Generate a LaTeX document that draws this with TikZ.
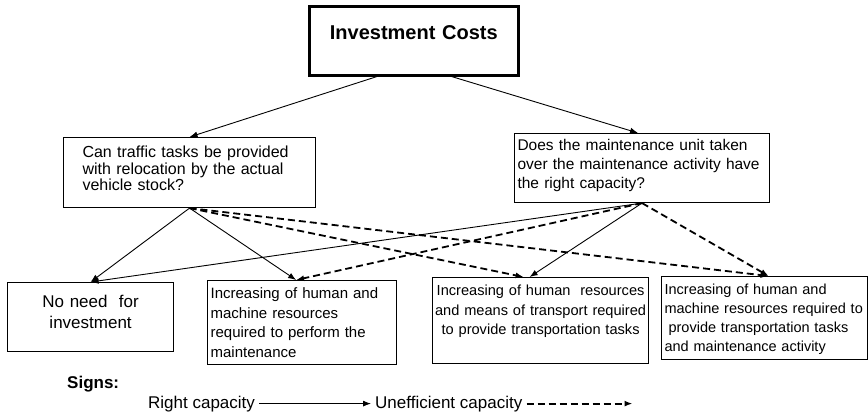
\documentclass[tikz,border=0pt]{standalone}
\usepackage{fontspec}
\setmainfont{Liberation Sans}
\usepackage{tikz}
\usetikzlibrary{arrows,arrows.meta,shapes}

\begin{document}
\begin{tikzpicture}[-, x=1pt, y=-1pt, inner ysep=0pt,
main node/.style={draw, rectangle, line width=2.6pt, inner xsep=0pt, text width=209pt, align=center, font=\fontsize{20}{24}\selectfont\bfseries},
question node/.style={draw, rectangle, line width=1.1pt, align=left},
result node/.style={draw, rectangle, line width=1.2pt},
sign node/.style={inner xsep=4pt, font=\fontsize{17}{20}\selectfont},
right cap/.style={line width=0.9pt, -{Latex[length=8pt,width=6pt]}},
weak cap/.style={line width=1.8pt, dash pattern=on 7pt off 4pt, -{Latex[length=8pt,width=6pt]}}]
\useasboundingbox (0,0) rectangle (868,414);
\node[main node, text height=33pt, text depth=36pt, anchor=north west] (1) at (308,5) {Investment Costs};
\node[question node, inner xsep=19pt, text width=214pt, text height=20pt, text depth=50pt, font=\fontsize{16}{16.7}\selectfont, anchor=north west] (2) at (63,137) {Can traffic tasks be provided\\ with relocation by the actual\\ vehicle stock?};
\node[question node, inner xsep=3pt, text width=249pt, text height=17pt, text depth=52pt, font=\fontsize{15.5}{19}\selectfont, anchor=north west] (3) at (514,133) {Does the maintenance unit taken\\ over the maintenance activity have\\ the right capacity?};
\node[result node, align=center, inner xsep=0pt, text width=166pt, text height=25pt, text depth=44pt, font=\fontsize{17}{21}\selectfont, anchor=north west] (4) at (7,282) {No need\ \ for\\ investment};
\node[result node, align=left, inner xsep=3pt, text width=183pt, text height=18pt, text depth=66pt, font=\fontsize{15}{19.5}\selectfont, anchor=north west] (5) at (207,280) {Increasing of human and\\ machine resources\\ required to perform the\\ maintenance};
\node[result node, align=center, inner xsep=2pt, text width=212pt, text height=18pt, text depth=68pt, font=\fontsize{14.6}{19.5}\selectfont, anchor=north west] (6) at (432,277) {Increasing of human\ \ resources\\ and means of transport required\\ to provide transportation tasks};
\node[result node, align=left, inner xsep=3pt, text width=200pt, text height=18pt, text depth=65pt, font=\fontsize{14.5}{19}\selectfont, anchor=north west] (7) at (661,276) {Increasing of human and\\ machine resources required to\\ \hspace*{4pt}provide transportation tasks\\ and maintenance activity};
\node[sign node, inner xsep=0pt, anchor=base west, font=\fontsize{17}{20}\selectfont\bfseries] (8) at (67,388) {Signs:};
\node[sign node, anchor=base west] (9) at (144,408) {Right capacity};
\node[sign node, anchor=base west] (10) at (371,408) {Unefficient capacity};
\coordinate (11) at ([xshift=106pt]10.east);
\path
([xshift=-37pt]1.south) edge[right cap] (2.north)
([xshift=38pt]1.south) edge[right cap] ([xshift=-4pt]3.north)
(2.south) edge[right cap] (4.north)
(2.south) edge[right cap] ([xshift=-6pt]5.north)
(2.south) edge[weak cap] ([xshift=-17pt]6.north)
(2.south) edge[weak cap] ([xshift=4pt]7.north)
(3.south) edge[right cap] (4.north)
(3.south) edge[weak cap] ([xshift=-6pt]5.north)
(3.south) edge[right cap] ([xshift=-11pt]6.north)
(3.south) edge[weak cap] ([xshift=4pt]7.north)
(9) edge[right cap] (10)
(10) edge[weak cap] (11);
\end{tikzpicture}
\end{document}
